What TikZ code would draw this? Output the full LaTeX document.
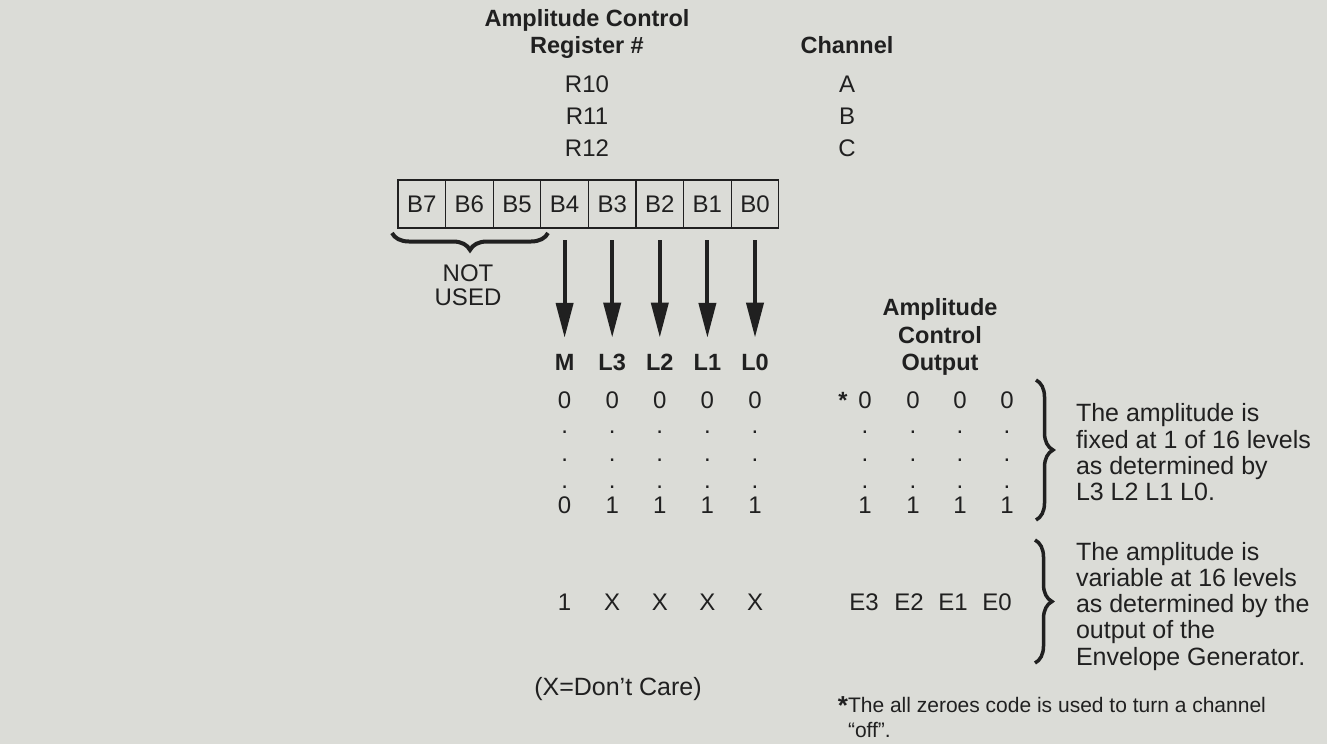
\documentclass[tikz,border=0pt]{standalone}
\usepackage{fontspec}
\setmainfont{Liberation Sans}
\usetikzlibrary{arrows.meta,decorations.pathreplacing}
\definecolor{paper}{RGB}{219,220,215}
\definecolor{ink}{RGB}{32,32,32}
\begin{document}
\begin{tikzpicture}[x=1pt,y=-1pt,
  every node/.style={inner sep=0pt, outer sep=0pt, text=ink},
  txt/.style={font=\fontsize{24}{28}\selectfont, anchor=base},
  hdr/.style={font=\fontsize{23.5}{28}\selectfont\bfseries, anchor=base},
  note/.style={font=\fontsize{25}{28}\selectfont, anchor=base west},
  foot/.style={font=\fontsize{21}{24}\selectfont, anchor=base west},
  cell/.style={draw=ink, line width=1.3pt, minimum width=47.6pt, minimum height=48pt,
    font=\fontsize{24}{28}\selectfont},
  arr/.style={draw=ink, line width=4pt, -{Triangle[length=35pt,width=17pt]},
    shorten <=12pt, shorten >=16pt},
  brc/.style={draw=ink, line width=3.5pt, decorate,
    decoration={brace, amplitude=17pt}},
]
\fill[paper] (0,0) rectangle (1327,744);
\useasboundingbox (0,0) rectangle (1327,744);

% headers
\node[hdr] (h1) at (587,27) {Amplitude Control};
\node[hdr] (h2) at (587,53) {Register \#};
\node[hdr] (h3) at (847,53) {Channel};
\node[txt] (r10) at (587,92) {R10};
\node[txt] (r11) at (587,124) {R11};
\node[txt] (r12) at (587,156) {R12};
\node[txt] (chA) at (847,92) {A};
\node[txt] (chB) at (847,124) {B};
\node[txt] (chC) at (847,156) {C};

% register cells
\foreach \i in {7,...,0} {
  \node[cell] (b\i) at ({398+47.6*(7-\i)+23.8},204) {B\i};
}

% brace under unused bits
\coordinate (ua) at (392,233);
\coordinate (ub) at (548,233);
\draw[brc, line width=4pt, decoration={brace, mirror, amplitude=17pt}] (ua) -- (ub);
\node[txt] (not) at (468,281) {NOT};
\node[txt] (used) at (468,305) {USED};

% column labels
\node[hdr] (lM)  at (b4 |- 0,370) {M};
\node[hdr] (lL3) at (b3 |- 0,370) {L3};
\node[hdr] (lL2) at (b2 |- 0,370) {L2};
\node[hdr] (lL1) at (b1 |- 0,370) {L1};
\node[hdr] (lL0) at (b0 |- 0,370) {L0};

\draw[arr] (b4.south) -- (lM.north);
\draw[arr] (b3.south) -- (lL3.north);
\draw[arr] (b2.south) -- (lL2.north);
\draw[arr] (b1.south) -- (lL1.north);
\draw[arr] (b0.south) -- (lL0.north);

% output header
\node[hdr] (o1) at (940,315) {Amplitude};
\node[hdr] (o2) at (940,343) {Control};
\node[hdr] (o3) at (940,370) {Output};

% left table values
\foreach \b/\top/\bot/\e in {4/0/0/1, 3/0/1/X, 2/0/1/X, 1/0/1/X, 0/0/1/X} {
  \node[txt] (t\b) at (b\b |- 0,408) {\top};
  \node[txt] (da\b) at (b\b |- 0,433) {.};
  \node[txt] (db\b) at (b\b |- 0,461) {.};
  \node[txt] (dc\b) at (b\b |- 0,488) {.};
  \node[txt] (u\b) at (b\b |- 0,513) {\bot};
  \node[txt] (x\b) at (b\b |- 0,610) {\e};
}

% right table values
\node[hdr, anchor=base] (star) at (843,408) {*};
\foreach \k/\xx in {3/865, 2/913, 1/960, 0/1007} {
  \node[txt] (rt\k) at (\xx,408) {0};
  \node[txt] (rda\k) at (\xx,433) {.};
  \node[txt] (rdb\k) at (\xx,461) {.};
  \node[txt] (rdc\k) at (\xx,488) {.};
  \node[txt] (ru\k) at (\xx,513) {1};
}
\node[txt] (e3) at (864,610) {E3};
\node[txt] (e2) at (909,610) {E2};
\node[txt] (e1) at (953,610) {E1};
\node[txt] (e0) at (997,610) {E0};

% right braces
\coordinate (p1) at (1036,380);
\coordinate (p2) at (1036,520);
\coordinate (q1) at (1035,540);
\coordinate (q2) at (1035,663);
\draw[brc] (p1) -- (p2);
\draw[brc] (q1) -- (q2);

% explanations
\node[note] (n11) at (1076,421) {The amplitude is};
\node[note] (n12) at (1076,448) {fixed at 1 of 16 levels};
\node[note] (n13) at (1076,474) {as determined by};
\node[note] (n14) at (1076,500) {L3 L2 L1 L0.};
\node[note] (n21) at (1076,560) {The amplitude is};
\node[note] (n22) at (1076,586) {variable at 16 levels};
\node[note] (n23) at (1076,612) {as determined by the};
\node[note] (n24) at (1076,638) {output of the};
\node[note] (n25) at (1076,665) {Envelope Generator.};

\node[txt, font=\fontsize{25}{28}\selectfont] (dc) at (618,695) {(X=Don’t Care)};

% footnote
\node[hdr, anchor=base east, font=\fontsize{26}{28}\selectfont\bfseries] (fstar) at (848,714) {*};
\node[foot] (f1) at (848,712) {The all zeroes code is used to turn a channel};
\node[foot] (f2) at (848,737) {“off”.};
\end{tikzpicture}
\end{document}
